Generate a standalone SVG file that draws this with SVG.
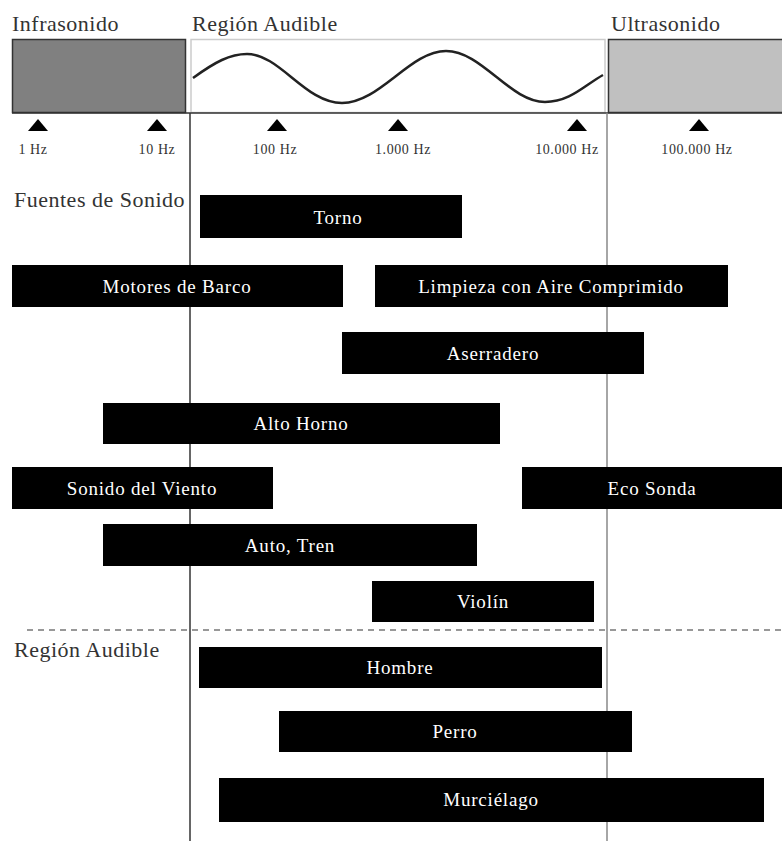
<svg xmlns="http://www.w3.org/2000/svg" width="782" height="841" viewBox="0 0 782 841" font-family="Liberation Serif, serif">
<style>
.hdr{font-size:22px;fill:#333;letter-spacing:0.5px}
.tick{font-size:14px;fill:#333;text-anchor:middle;letter-spacing:0.6px}
.bar{fill:#000}
.bl{font-size:19px;fill:#fff;text-anchor:middle;letter-spacing:0.8px}
</style>
<defs>
<polygon id="tri" points="0,0 -10,12 10,12" fill="#000"/>
</defs>
<rect width="782" height="841" fill="#fff"/>
<g id="header">
<text class="hdr" x="12" y="31">Infrasonido</text>
<text class="hdr" x="192" y="31">Región Audible</text>
<text class="hdr" x="611" y="31">Ultrasonido</text>
<rect x="12.5" y="39.5" width="173" height="73" fill="#808080" stroke="#333" stroke-width="1.5"/>
<rect x="191" y="39.5" width="414" height="73" fill="#fff" stroke="#ccc" stroke-width="1.5"/>
<rect x="608.5" y="39.5" width="175" height="73" fill="#c0c0c0" stroke="#333" stroke-width="1.5"/>
<line x1="12" y1="113" x2="782" y2="113" stroke="#333" stroke-width="1.5"/>
<path d="M193,78 C215,62 230,54 247,54 C280,54 305,103 342,103 C380,103 410,51 446,51 C482,51 510,102 545,102 C570,102 585,85 603,75" fill="none" stroke="#222" stroke-width="2.5"/>
</g>
<g id="axis">
<use href="#tri" x="38" y="119"/>
<use href="#tri" x="157" y="119"/>
<use href="#tri" x="277" y="119"/>
<use href="#tri" x="398" y="119"/>
<use href="#tri" x="577" y="119"/>
<use href="#tri" x="699" y="119"/>
<text class="tick" x="33" y="154">1 Hz</text>
<text class="tick" x="157" y="154">10 Hz</text>
<text class="tick" x="275" y="154">100 Hz</text>
<text class="tick" x="403" y="154">1.000 Hz</text>
<text class="tick" x="567" y="154">10.000 Hz</text>
<text class="tick" x="697" y="154">100.000 Hz</text>
</g>
<g id="connectors">
<line x1="190" y1="113" x2="190" y2="841" stroke="#333" stroke-width="1.5"/>
<line x1="607" y1="113" x2="607" y2="841" stroke="#888" stroke-width="1.5"/>
<line x1="27" y1="630" x2="782" y2="630" stroke="#333" stroke-width="1.2" stroke-dasharray="6,5"/>
</g>
<text class="hdr" x="14" y="207">Fuentes de Sonido</text>
<text class="hdr" x="14" y="657">Región Audible</text>
<g id="torno"><rect class="bar" x="200" y="195" width="262" height="43"/><text class="bl" x="338" y="224">Torno</text></g>
<g id="motores"><rect class="bar" x="12" y="265" width="331" height="42"/><text class="bl" x="177" y="293">Motores de Barco</text></g>
<g id="limpieza"><rect class="bar" x="375" y="265" width="353" height="42"/><text class="bl" x="551" y="293">Limpieza con Aire Comprimido</text></g>
<g id="aserradero"><rect class="bar" x="342" y="332" width="302" height="42"/><text class="bl" x="493" y="360">Aserradero</text></g>
<g id="altohorno"><rect class="bar" x="103" y="403" width="397" height="41"/><text class="bl" x="301" y="430">Alto Horno</text></g>
<g id="viento"><rect class="bar" x="12" y="467" width="261" height="42"/><text class="bl" x="142" y="495">Sonido del Viento</text></g>
<g id="ecosonda"><rect class="bar" x="522" y="467" width="260" height="42"/><text class="bl" x="652" y="495">Eco Sonda</text></g>
<g id="autotren"><rect class="bar" x="103" y="524" width="374" height="42"/><text class="bl" x="290" y="552">Auto, Tren</text></g>
<g id="violin"><rect class="bar" x="372" y="581" width="222" height="41"/><text class="bl" x="483" y="608">Violín</text></g>
<g id="hombre"><rect class="bar" x="199" y="647" width="403" height="41"/><text class="bl" x="400" y="674">Hombre</text></g>
<g id="perro"><rect class="bar" x="279" y="711" width="353" height="41"/><text class="bl" x="455" y="738">Perro</text></g>
<g id="murcielago"><rect class="bar" x="219" y="778" width="545" height="44"/><text class="bl" x="491" y="806">Murciélago</text></g>
</svg>
